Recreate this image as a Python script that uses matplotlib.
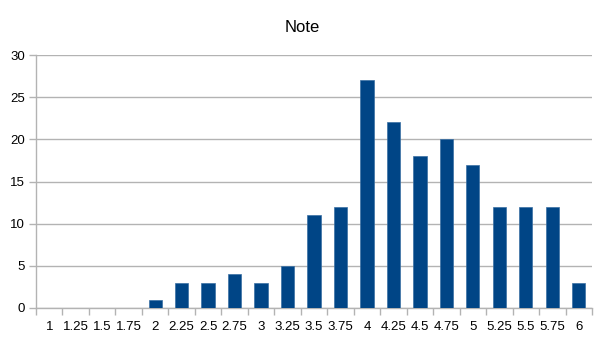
import matplotlib
matplotlib.use("Agg")
import matplotlib.pyplot as plt
import numpy as np

categories = ["1", "1.25", "1.5", "1.75", "2", "2.25", "2.5", "2.75", "3", "3.25",
              "3.5", "3.75", "4", "4.25", "4.5", "4.75", "5", "5.25", "5.5", "5.75", "6"]
counts = [0, 0, 0, 0, 1, 3, 3, 4, 3, 5, 11, 12, 27, 22, 18, 20, 17, 12, 12, 12, 3]
yticks = [0, 5, 10, 15, 20, 25, 30]

plt.rcParams['font.family'] = ['Liberation Sans', 'DejaVu Sans']

fig = plt.figure(figsize=(6.05, 3.4), dpi=100)
W, H = 605, 340
left, right, top, bottom = 36, 592, 55, 308
ax = fig.add_axes([left / W, 1 - bottom / H, (right - left) / W, (bottom - top) / H])

x = np.arange(len(categories))
ax.bar(x, counts, width=0.5, color="#004586", edgecolor="#3a6fa3", linewidth=0.5, zorder=3)

ax.set_xlim(-0.5, len(categories) - 0.5)
ax.set_ylim(0, 30)
ax.set_yticks(yticks)
ax.set_yticklabels([str(v) for v in yticks], fontsize=9.5)
ax.yaxis.grid(True, color="#b3b3b3", linewidth=1, zorder=0)
ax.set_xticks(x)
ax.set_xticklabels(categories, fontsize=9.5)
ax.tick_params(axis='x', length=0, pad=9)
ax.set_xticks(np.arange(-0.5, len(categories)), minor=True)
ax.tick_params(axis='x', which='minor', length=5, color="#b3b3b3", width=1)
ax.tick_params(axis='y', length=5, color="#b3b3b3", width=1, pad=3)

for s in ['top', 'right']:
    ax.spines[s].set_visible(False)
for s in ['left', 'bottom']:
    ax.spines[s].set_color("#b3b3b3")
    ax.spines[s].set_linewidth(1)

fig.text(0.5, 1 - 27 / H, "Note", ha='center', va='center', fontsize=12)

fig.savefig("out.png", dpi=100)
